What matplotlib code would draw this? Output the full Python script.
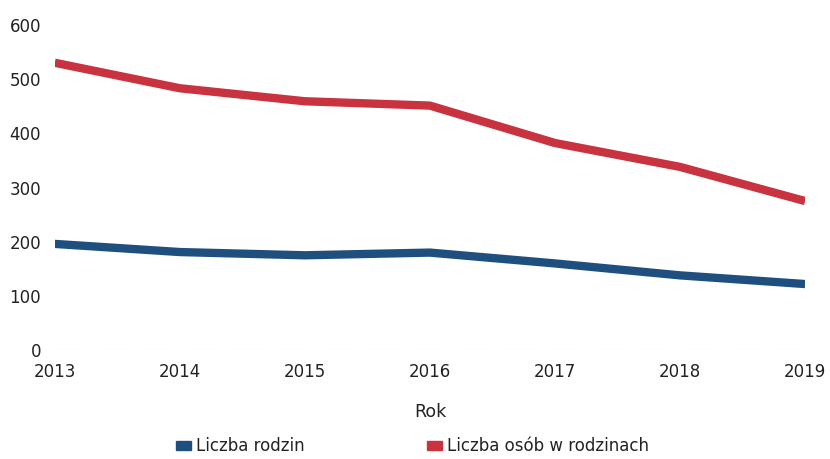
import matplotlib
matplotlib.use("Agg")
import matplotlib.pyplot as plt
from matplotlib.patches import Patch

# data
years = [2013, 2014, 2015, 2016, 2017, 2018, 2019]
liczba_rodzin = [196, 181, 175, 180, 160, 138, 122]
liczba_osob = [530, 483, 459, 451, 382, 338, 275]
yticks = [0, 100, 200, 300, 400, 500, 600]

blue = '#1f4f7f'
red = '#c9323f'
txt = '#222222'

fig = plt.figure(figsize=(8.3, 4.59), dpi=100)
ax = fig.add_axes([0.066, 0.237, 0.904, 0.709])

ax.plot(years, liczba_rodzin, color=blue, linewidth=6, solid_capstyle='butt')
ax.plot(years, liczba_osob, color=red, linewidth=6, solid_capstyle='butt')

ax.set_xlim(years[0], years[-1])
ax.set_ylim(0, 600)
ax.set_xticks(years)
ax.set_yticks(yticks)
ax.tick_params(length=0, labelsize=12, labelcolor=txt)
ax.tick_params(axis='y', pad=10)
ax.tick_params(axis='x', pad=9)
for s in ax.spines.values():
    s.set_visible(False)
ax.axhline(0, color='#eeeeee', linewidth=1, linestyle=(0, (4, 3)), zorder=0)

ax.set_xlabel('Rok', fontsize=12.5, color=txt, labelpad=16)

handles = [Patch(color=blue, label='Liczba rodzin'),
           Patch(color=red, label='Liczba osób w rodzinach')]
fig.legend(handles=handles, loc='lower center', bbox_to_anchor=(0.497, -0.025), ncol=2,
           frameon=False, fontsize=12, handlelength=0.9, handleheight=0.5,
           handletextpad=0.3, columnspacing=7.4, labelcolor=txt)

fig.savefig('out.png', dpi=100)
